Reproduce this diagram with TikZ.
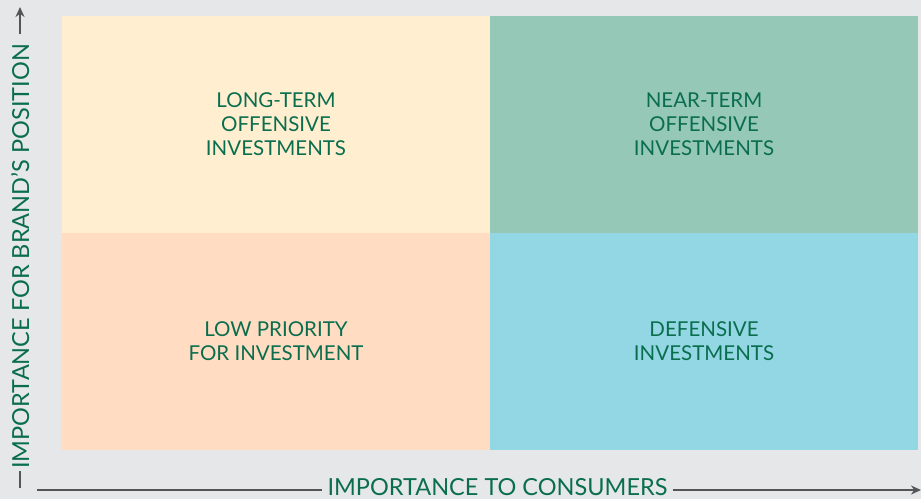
\documentclass[tikz,border=0pt]{standalone}
\usepackage{fontspec}
\setmainfont{Lato}
\usepackage{xcolor}
\definecolor{grisFondo}{RGB}{230, 231, 233}
\definecolor{grisLinea}{RGB}{85, 85, 88}
\definecolor{verdeOscuro}{RGB}{10, 110, 78}
\definecolor{crema}{RGB}{255, 239, 208}
\definecolor{verdeAgua}{RGB}{150, 200, 184}
\definecolor{melocoton}{RGB}{255, 220, 194}
\definecolor{celeste}{RGB}{146, 215, 227}
\usepackage{tikz}
\usetikzlibrary{arrows.meta,positioning}
\tikzstyle{cuadro}=[rectangle, minimum width=428pt, minimum height=217pt,
                    inner sep=0pt, outer sep=0pt, align=center,
                    text=verdeOscuro, font=\fontsize{20.5}{24}\selectfont]
\tikzstyle{eje}   =[draw=grisLinea, line width=2pt]
\tikzstyle{etiqueta}=[text=verdeOscuro, inner sep=5pt, text height=16pt,
                    text depth=0pt, font=\fontsize{23.5}{26}\selectfont]

\begin{document}
\begin{tikzpicture}[x=1pt,y=-1pt]
    \fill[grisFondo] (0,0) rectangle (921,499);
    \useasboundingbox (0,0) rectangle (921,499);

    % four quadrants
    \node (tl) [cuadro,fill=crema]     at (276,124.5) {LONG-TERM\\OFFENSIVE\\INVESTMENTS};
    \node (tr) [cuadro,fill=verdeAgua] at (704,124.5) {NEAR-TERM\\OFFENSIVE\\INVESTMENTS};
    \node (bl) [cuadro,fill=melocoton] at (276,341.5) {LOW PRIORITY\\FOR INVESTMENT};
    \node (br) [cuadro,fill=celeste]   at (704,341.5) {DEFENSIVE\\INVESTMENTS};

    % axes
    \coordinate (xini) at (37,490);
    \coordinate (xfin) at (921,490);
    \node (xlab) [etiqueta] at (497.5,487.5) {IMPORTANCE TO CONSUMERS};
    \draw [eje] (xini) -- (xini -| xlab.west);
    \draw [eje,-{Stealth[length=10pt,width=9pt]}] (xfin -| xlab.east) -- (xfin);

    \coordinate (yini) at (20,488);
    \coordinate (yfin) at (20,7);
    \node (ylab) [etiqueta,rotate=90,inner sep=2pt] at (21,256.5) {IMPORTANCE FOR BRAND'S POSITION};
    \draw [eje] (yini) -- (yini |- ylab.west);
    \draw [eje,shorten <=8pt,-{Stealth[length=10pt,width=9pt]}] (yfin |- ylab.east) -- (yfin);
\end{tikzpicture}
\end{document}
